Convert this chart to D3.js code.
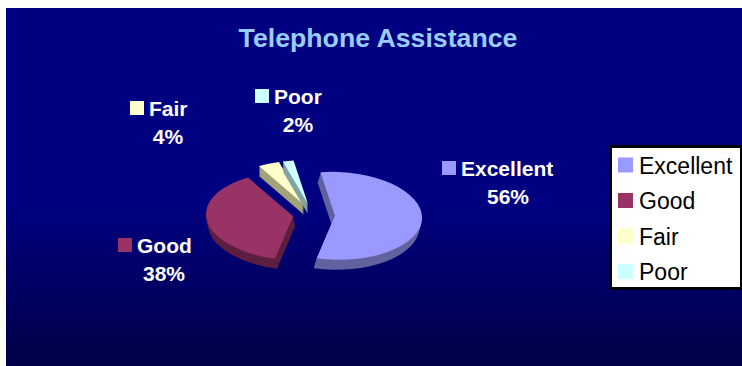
<!DOCTYPE html>
<html>
<head>
<meta charset="utf-8">
<script src="https://cdn.jsdelivr.net/npm/d3@7/dist/d3.min.js"></script>
<style>
html,body{margin:0;padding:0;background:#fffef8;overflow:hidden}
svg{display:block}
text{font-family:"Liberation Sans",Arial,sans-serif}
</style>
</head>
<body>
<svg id="chart" width="742" height="366"></svg>
<script>
const title = "Telephone Assistance";
const categories = ["Excellent", "Good", "Fair", "Poor"];
const values = [56, 38, 4, 2];
const topColors = ["#9999ff", "#993366", "#ffffcc", "#ccffff"];
const sideColors = ["#62629f", "#5e1f40", "#a3a37a", "#82a3a3"];
const explodeBy = [23, 19, 22, 22];
const labelSwatchX = [442, 118, 130, 255];
const labelSwatchY = [161, 238, 101, 89];
const percentX = [508, 164, 168, 298];

const svg = d3.select("#chart");
const defs = svg.append("defs");
const grad = defs.append("linearGradient")
  .attr("id", "panel").attr("x1", 0).attr("y1", 0).attr("x2", 0).attr("y2", 1);
grad.append("stop").attr("offset", "0%").attr("stop-color", "#000080");
grad.append("stop").attr("offset", "55%").attr("stop-color", "#000080");
grad.append("stop").attr("offset", "100%").attr("stop-color", "#000048");

svg.append("rect").attr("x", 6).attr("y", 8).attr("width", 736).attr("height", 358)
  .attr("fill", "url(#panel)");

svg.append("text").attr("x", 378).attr("y", 47).attr("text-anchor", "middle")
  .attr("font-size", 26.7).attr("font-weight", "bold").attr("fill", "#99ccff").text(title);

// Tilted pie: arcs are built on a flat radius, then squashed and sheared by the transform.
const radiusX = 87, tilt = 0.505, depth = 10, shear = -5;
const centerX = 312, centerY = 215;
const startDeg = -7;

const pie = d3.pie().sort(null)
  .startAngle(startDeg * Math.PI / 180)
  .endAngle((startDeg + 360) * Math.PI / 180);
const arcs = pie(values);
const arc = d3.arc().innerRadius(0).outerRadius(radiusX);
const layers = d3.range(depth, 0, -1);
const squash = `skewX(${-shear}) scale(1,${tilt})`;

// Paint back slices first so the nearer ones overlap them.
[2, 3, 1, 0].forEach(i => {
  const a = arcs[i];
  const mid = (a.startAngle + a.endAngle) / 2;
  const ox = Math.sin(mid) * explodeBy[i];
  const oy = -Math.cos(mid) * explodeBy[i] * tilt;
  const lean = i === 0 ? -3 : i === 1 ? 2 : 0;
  const g = svg.append("g").attr("class", "slice");
  g.selectAll("path.side").data(layers).join("path")
    .attr("class", "side")
    .attr("d", arc(a))
    .attr("fill", sideColors[i])
    .attr("transform", d =>
      `translate(${centerX + ox + lean * d / depth},${centerY + oy + d}) ${squash}`);
  g.append("path")
    .attr("d", arc(a))
    .attr("fill", topColors[i])
    .attr("transform", `translate(${centerX + ox},${centerY + oy}) ${squash}`);
});

// Data labels: swatch and name on one line, percentage centred below.
categories.forEach((name, i) => {
  const x = labelSwatchX[i], y = labelSwatchY[i];
  svg.append("rect").attr("x", x).attr("y", y).attr("width", 14).attr("height", 14)
    .attr("fill", topColors[i]);
  svg.append("text").attr("x", x + 19).attr("y", y + 15)
    .attr("font-size", 21).attr("font-weight", "bold").attr("fill", "#ffffff").text(name);
  svg.append("text").attr("x", percentX[i]).attr("y", y + 43).attr("text-anchor", "middle")
    .attr("font-size", 21).attr("font-weight", "bold").attr("fill", "#ffffff")
    .text(values[i] + "%");
});

// Legend box with its dark edge.
svg.append("rect").attr("x", 609).attr("y", 145).attr("width", 133).attr("height", 145)
  .attr("fill", "#000000");
svg.append("rect").attr("x", 612).attr("y", 148).attr("width", 128).attr("height", 139)
  .attr("fill", "#ffffff");

const legendY = d3.scalePoint().domain(categories).range([165.5, 272]);
categories.forEach((name, i) => {
  const y = legendY(name);
  svg.append("rect").attr("x", 618).attr("y", y - 8).attr("width", 15).attr("height", 15)
    .attr("fill", topColors[i]);
  svg.append("text").attr("x", 639).attr("y", y + 8)
    .attr("font-size", 23).attr("fill", "#000000").text(name);
});
</script>
</body>
</html>
